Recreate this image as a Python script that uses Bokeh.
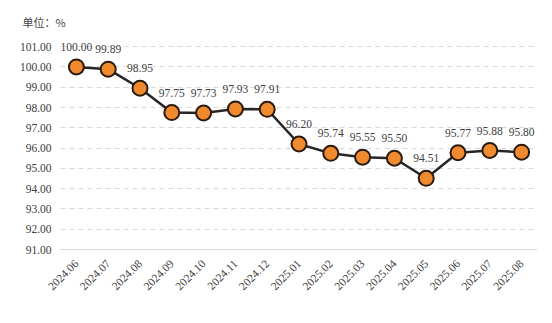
import math
from bokeh.plotting import figure
from bokeh.models import FactorRange, Range1d, FixedTicker, PrintfTickFormatter, ColumnDataSource
from bokeh.core.properties import value
from bokeh.embed import file_html
from bokeh.resources import INLINE

months = ["2024.06", "2024.07", "2024.08", "2024.09", "2024.10", "2024.11", "2024.12",
          "2025.01", "2025.02", "2025.03", "2025.04", "2025.05", "2025.06", "2025.07", "2025.08"]
values = [100.00, 99.89, 98.95, 97.75, 97.73, 97.93, 97.91,
          96.20, 95.74, 95.55, 95.50, 94.51, 95.77, 95.88, 95.80]
y_ticks = [91, 92, 93, 94, 95, 96, 97, 98, 99, 100, 101]
unit_title = "单位：%"

src = ColumnDataSource(dict(x=months, y=values, lab=["%.2f" % v for v in values]))

p = figure(width=552, height=323, output_backend="svg", toolbar_location=None,
           x_range=FactorRange(*months, range_padding=0), y_range=Range1d(91, 101.6),
           min_border_left=60, min_border_right=15, min_border_top=34, min_border_bottom=74,
           title=unit_title)
p.outline_line_color = None
p.title.text_font = "Noto Sans CJK SC"
p.title.text_font_size = "11px"
p.title.text_font_style = "normal"
p.title.text_color = "#404040"
p.title.align = "left"
p.title.offset = -38

p.xgrid.grid_line_color = None
p.ygrid.grid_line_color = "#d9d9d9"
p.ygrid.grid_line_dash = "5 4"
p.ygrid.ticker = FixedTicker(ticks=y_ticks[1:])

p.yaxis.ticker = FixedTicker(ticks=y_ticks)
p.yaxis.formatter = PrintfTickFormatter(format="%.2f")
p.yaxis.axis_line_color = None
p.yaxis.major_tick_line_color = None
p.yaxis.minor_tick_line_color = None
p.yaxis.major_label_text_font = "Liberation Serif"
p.yaxis.major_label_text_font_size = "11.5px"
p.yaxis.major_label_text_color = "#404040"
p.yaxis.major_label_standoff = 3

p.xaxis.axis_line_color = "#d9d9d9"
p.xaxis.major_tick_line_color = None
p.xaxis.minor_tick_line_color = None
p.xaxis.major_label_orientation = math.pi / 4
p.xaxis.major_label_text_font = "Liberation Serif"
p.xaxis.major_label_text_font_size = "11.5px"
p.xaxis.major_label_text_color = "#404040"
p.xaxis.major_label_standoff = 6

p.line("x", "y", source=src, line_color="#262626", line_width=2.5)
p.scatter("x", "y", source=src, size=15, fill_color="#F08A2E", line_color="#2b1a0e", line_width=2)
p.text("x", "y", text="lab", source=src, y_offset=-20, text_align="center", text_baseline="middle",
       text_font=value("Liberation Serif"), text_font_size="11.5px", text_color="#404040")

open("out.html", "w").write(file_html(p, INLINE))
